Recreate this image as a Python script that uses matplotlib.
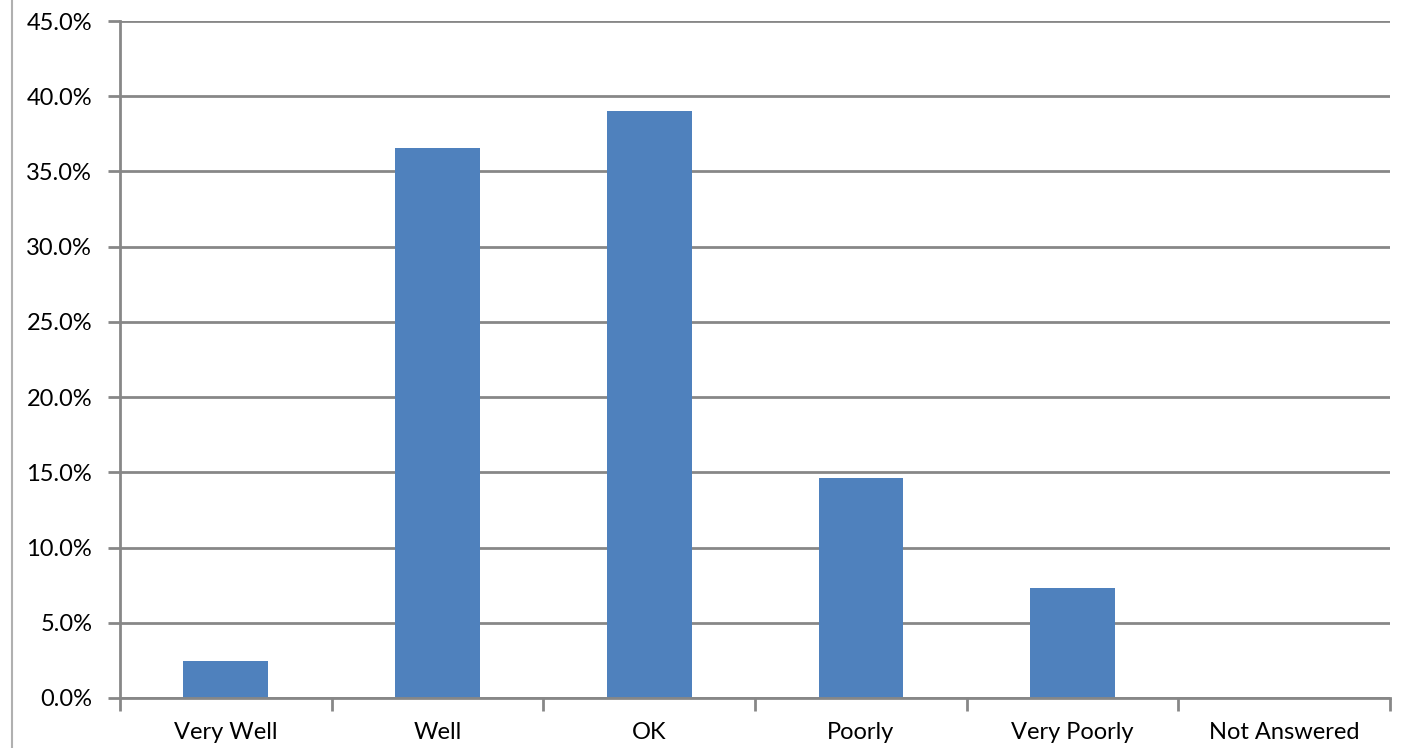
import matplotlib
matplotlib.use("Agg")
import matplotlib.pyplot as plt
from matplotlib.lines import Line2D
from matplotlib.ticker import FuncFormatter

categories = ["Very Well", "Well", "OK", "Poorly", "Very Poorly", "Not Answered"]
percent = [2.44, 36.59, 39.02, 14.63, 7.32, 0.0]
y_ticks = [0, 5, 10, 15, 20, 25, 30, 35, 40, 45]

BAR = "#4F81BD"
GRID = "#878787"

plt.rcParams["font.family"] = ["Lato", "DejaVu Sans"]

fig = plt.figure(figsize=(14.08, 7.48), dpi=100)
ax = fig.add_axes([120 / 1408, 1 - 698 / 748, 1270 / 1408, 677 / 748])

x = list(range(len(categories)))
ax.bar(x, percent, width=0.4, color=BAR, zorder=3)

ax.set_xlim(-0.5, len(categories) - 0.5)
ax.set_ylim(0, 45)
ax.set_yticks(y_ticks)
ax.yaxis.set_major_formatter(FuncFormatter(lambda v, _: f"{v:.1f}%"))
ax.grid(axis="y", color=GRID, linewidth=2, zorder=1)

ax.set_xticks(x)
ax.set_xticklabels(categories)
ax.set_xticks([i - 0.5 for i in range(len(categories) + 1)], minor=True)
ax.tick_params(axis="x", which="major", length=0, pad=17, labelsize=17)
ax.tick_params(axis="x", which="minor", length=9, width=2, color=GRID, direction="out")
ax.tick_params(axis="y", length=9, width=2, color=GRID, pad=11, labelsize=17)

for side in ("top", "right"):
    ax.spines[side].set_visible(False)
for side in ("left", "bottom"):
    ax.spines[side].set_color(GRID)
    ax.spines[side].set_linewidth(2)
    ax.spines[side].set_zorder(4)

# thin frame edge at the far left, as in the source screenshot
fig.add_artist(Line2D([12 / 1408, 12 / 1408], [0, 1], color="#b0b0b0", linewidth=1.5,
                      transform=fig.transFigure))

fig.savefig("out.png", dpi=100)
